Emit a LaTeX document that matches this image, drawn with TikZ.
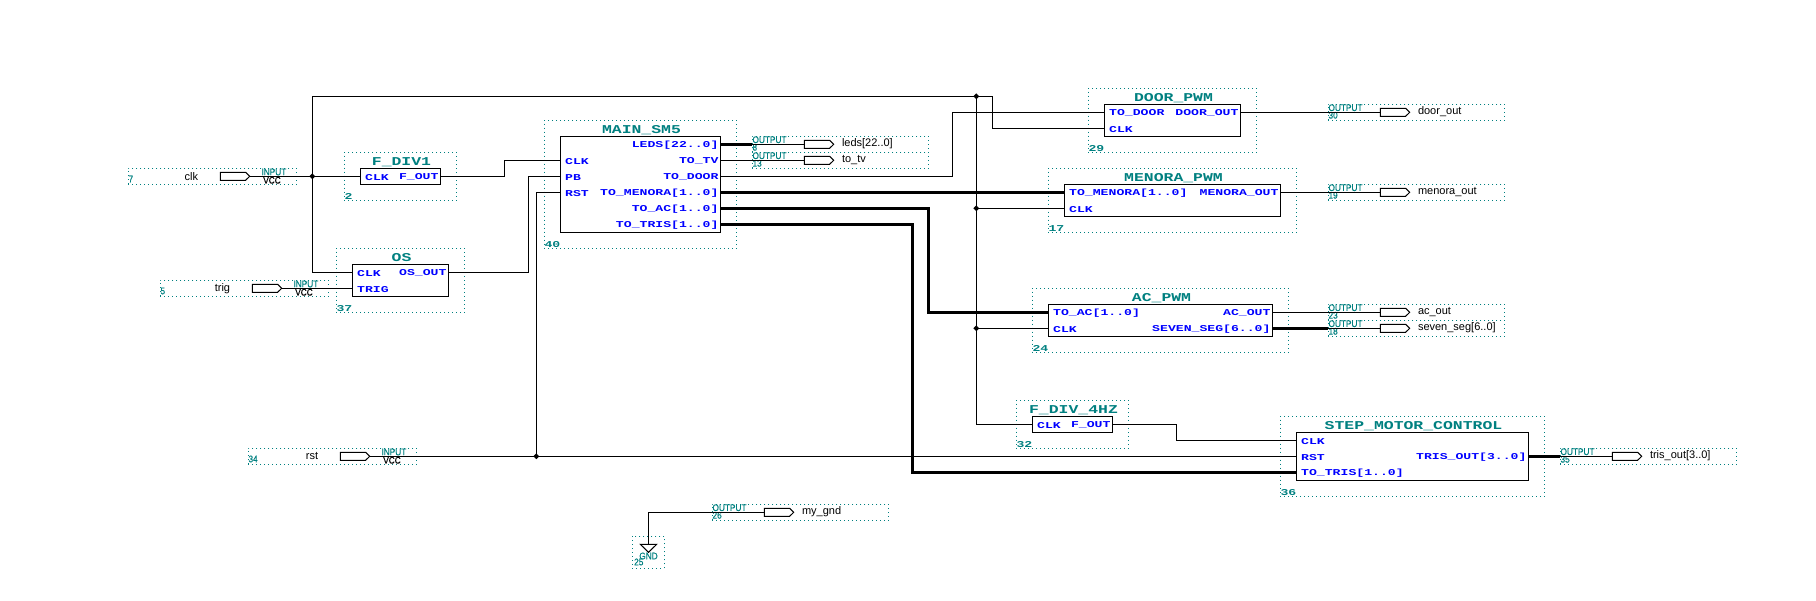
\documentclass[tikz,border=0pt]{standalone}
\usepackage{fontspec}
\setmainfont{Liberation Sans}
\newfontfamily\portfont{Liberation Mono}[FakeStretch=1.46]
\newfontfamily\titlefont{Liberation Mono}[FakeStretch=1.37]
\newfontfamily\smallfont{Liberation Sans}[FakeStretch=0.87,FakeBold=0.4]
\usetikzlibrary{shapes.geometric}
\definecolor{qteal}{HTML}{008080}
\definecolor{qblue}{HTML}{0000FF}
\tikzset{
  wire/.style={line width=1pt,black},
  bus/.style={line width=3pt,black},
  pinshape/.style={draw=black,fill=white,line width=1pt},
  blockbox/.style={draw=black,line width=1pt,inner sep=0pt,outer sep=0pt,anchor=north west},
  dotbox/.style={draw=qteal,line width=1pt,dash pattern=on 1pt off 3pt,inner sep=0pt,outer sep=0pt,anchor=north west},
  portlab/.style={text=qblue,inner sep=0pt,font=\portfont\bfseries\fontsize{9}{9}\selectfont},
  titlelab/.style={text=qteal,inner sep=0pt,font=\titlefont\bfseries\fontsize{12}{12}\selectfont},
  numlab/.style={text=qteal,inner sep=0pt,anchor=west,font=\portfont\bfseries\fontsize{9}{9}\selectfont},
  smalllab/.style={text=qteal,inner sep=0pt,font=\smallfont\fontsize{9.5}{9.5}\selectfont},
  vcclab/.style={text=black,inner sep=0pt,font=\smallfont\fontsize{9.5}{9.5}\selectfont},
  namelab/.style={text=black,inner sep=0pt,font=\fontsize{11}{11}\selectfont},
  junction/.style={diamond,fill=black,inner sep=0pt,minimum size=6pt},
}
% name, x, y, w, h, title, number
\newcommand{\qblock}[7]{%
  \node[dotbox,minimum width={(#4+32)*1pt},minimum height={(#5+32)*1pt}] (#1-dots) at ({#2-16},{#3-16}) {};
  \node[blockbox,minimum width=#4pt,minimum height=#5pt] (#1) at (#2,#3) {};
  \node[titlelab] (#1-title) at ({#2+#4/2+1},{#3-6.5}) {#6};
  \node[numlab] (#1-num) at ({#2-16},{#3+#5+12}) {#7};
}
\newcommand{\qpinshape}[2]{%
  \draw[pinshape] ({#1},{#2-4}) -- ++(25.3,0) -- ++(4.1,4) -- ++(-4.1,4) -- ++(-25.3,0) -- cycle;
}
% name, x, y, text, number
\newcommand{\qinput}[5]{%
  \node[dotbox,minimum width=168.5pt,minimum height=16pt] (#1-dots) at ({#2},{#3-8}) {};
  \qpinshape{#2+92}{#3}
  \coordinate (#1) at ({#2+121.4},{#3});
  \node[smalllab,anchor=west] (#1-kind) at ({#2+133},{#3-4.3}) {INPUT};
  \node[vcclab] (#1-vcc) at ({#2+143.7},{#3+4}) {VCC};
  \node[smalllab,anchor=west] (#1-num) at ({#2},{#3+2.7}) {#5};
  \node[namelab,anchor=east] (#1-name) at ({#2+70},{#3}) {#4};
}
\newcommand{\qoutput}[5]{%
  \node[dotbox,minimum width=176.5pt,minimum height=16pt] (#1-dots) at ({#2},{#3-8}) {};
  \qpinshape{#2+52}{#3}
  \coordinate (#1-in) at ({#2},{#3});
  \coordinate (#1-l) at ({#2+52},{#3});
  \node[smalllab,anchor=west] (#1-kind) at ({#2},{#3-4.6}) {OUTPUT};
  \node[smalllab,anchor=west] (#1-num) at ({#2},{#3+3}) {#5};
  \node[namelab,anchor=west] (#1-name) at ({#2+89.5},{#3-0.5}) {#4};
}
% coordinate name, x, y, text
\newcommand{\qportl}[4]{%
  \coordinate (#1) at (#2,#3);
  \node[portlab,anchor=west] (#1-t) at ({#2+4.7},{#3+1}) {#4};
}
\newcommand{\qportr}[4]{%
  \coordinate (#1) at (#2,#3);
  \node[portlab,anchor=east] (#1-t) at ({#2-2},{#3+1}) {#4};
}
\begin{document}
\begin{tikzpicture}[x=1pt,y=-1pt]
\useasboundingbox (0,0) rectangle (1816,600);
% blocks
\qblock{fdiv}{360.3}{168.3}{80.4}{16}{F\_DIV1}{2}
\qportl{fdiv-clk}{360.3}{176.3}{CLK}
\qportr{fdiv-out}{440.7}{176.3}{F\_OUT}
\qblock{os}{352.3}{264.3}{96.4}{32}{OS}{37}
\qportl{os-clk}{352.3}{272.3}{CLK}
\qportl{os-trig}{352.3}{288.3}{TRIG}
\qportr{os-out}{448.7}{272.3}{OS\_OUT}
\qblock{main}{560.3}{136.3}{160.4}{96}{MAIN\_SM5}{40}
\qportl{main-clk}{560.3}{160.3}{CLK}
\qportl{main-pb}{560.3}{176.3}{PB}
\qportl{main-rst}{560.3}{192.3}{RST}
\qportr{main-leds}{720.7}{144.3}{LEDS[22..0]}
\qportr{main-tv}{720.7}{160.3}{TO\_TV}
\qportr{main-door}{720.7}{176.3}{TO\_DOOR}
\qportr{main-men}{720.7}{192.3}{TO\_MENORA[1..0]}
\qportr{main-ac}{720.7}{208.3}{TO\_AC[1..0]}
\qportr{main-tris}{720.7}{224.3}{TO\_TRIS[1..0]}
\qblock{door}{1104.3}{104.3}{136.4}{32}{DOOR\_PWM}{29}
\qportl{door-to}{1104.3}{112.3}{TO\_DOOR}
\qportl{door-clk}{1104.3}{128.3}{CLK}
\qportr{door-out}{1240.7}{112.3}{DOOR\_OUT}
\qblock{men}{1064.3}{184.3}{216.4}{32}{MENORA\_PWM}{17}
\qportl{men-to}{1064.3}{192.3}{TO\_MENORA[1..0]}
\qportl{men-clk}{1064.3}{208.3}{CLK}
\qportr{men-out}{1280.7}{192.3}{MENORA\_OUT}
\qblock{ac}{1048.3}{304.3}{224.4}{32}{AC\_PWM}{24}
\qportl{ac-to}{1048.3}{312.3}{TO\_AC[1..0]}
\qportl{ac-clk}{1048.3}{328.3}{CLK}
\qportr{ac-out}{1272.7}{312.3}{AC\_OUT}
\qportr{ac-seg}{1272.7}{328.3}{SEVEN\_SEG[6..0]}
\qblock{ffour}{1032.3}{416.3}{80.4}{16}{F\_DIV\_4HZ}{32}
\qportl{ffour-clk}{1032.3}{424.3}{CLK}
\qportr{ffour-out}{1112.7}{424.3}{F\_OUT}
\qblock{step}{1296.3}{432.3}{232.4}{48}{STEP\_MOTOR\_CONTROL}{36}
\qportl{step-clk}{1296.3}{440.3}{CLK}
\qportl{step-rst}{1296.3}{456.3}{RST}
\qportl{step-tris}{1296.3}{472.3}{TO\_TRIS[1..0]}
\qportr{step-out}{1528.7}{456.3}{TRIS\_OUT[3..0]}
% inputs
\qinput{clkpin}{128.3}{176.3}{clk}{7}
\qinput{trigpin}{160.3}{288.3}{trig}{5}
\qinput{rstpin}{248.3}{456.3}{rst}{34}
% outputs
\qoutput{ledso}{752.3}{144.3}{leds[22..0]}{8}
\qoutput{tvo}{752.3}{160.3}{to\_tv}{13}
\qoutput{dooro}{1328.3}{112.3}{door\_out}{30}
\qoutput{meno}{1328.3}{192.3}{menora\_out}{19}
\qoutput{aco}{1328.3}{312.3}{ac\_out}{23}
\qoutput{sego}{1328.3}{328.3}{seven\_seg[6..0]}{18}
\qoutput{triso}{1560.3}{456.3}{tris\_out[3..0]}{35}
\qoutput{gndo}{712.3}{512.3}{my\_gnd}{26}
% gnd symbol
\node[dotbox,minimum width=32pt,minimum height=32pt] (gnd-dots) at (632.3,536.3) {};
\draw[pinshape] (640.3,544.3) -- (656.7,544.3) -- (648.5,552.3) -- cycle;
\coordinate (gndtop) at (648.5,544.3);
\node[smalllab] (gnd-t) at (648.5,556) {GND};
\node[smalllab,anchor=west] (gnd-n) at (634,562) {25};
% helper corners
\coordinate (tl) at (312.3,96.3);
\coordinate (tr) at (992.3,96.3);
\coordinate (c1) at (504.3,160.3);
\coordinate (c2) at (528.3,176.3);
\coordinate (c3) at (952.3,112.3);
\coordinate (c4) at (928.3,312.3);
\coordinate (c5) at (912.3,472.3);
\coordinate (c6) at (1176.3,440.3);
\node[junction] (jclk) at (312.3,176.3) {};
\node[junction] (jtop) at (976.3,96.3) {};
\node[junction] (jmen) at (976.3,208.3) {};
\node[junction] (jac) at (976.3,328.3) {};
\node[junction] (jrst) at (536.3,456.3) {};
% wires
\draw[wire] (clkpin) -- (fdiv-clk);
\draw[wire] (os-clk) -| (tl) -- (tr) |- (door-clk);
\draw[wire] (trigpin) -- (os-trig);
\draw[wire] (fdiv-out) -| (c1) -- (main-clk);
\draw[wire] (os-out) -| (c2) -- (main-pb);
\draw[wire] (rstpin) -- (step-rst);
\draw[wire] (jrst.center) |- (main-rst);
\draw[wire] (jtop.center) |- (ffour-clk);
\draw[wire] (jmen.center) -- (men-clk);
\draw[wire] (jac.center) -- (ac-clk);
\draw[wire] (main-door) -| (c3) -- (door-to);
\draw[wire] (ffour-out) -| (c6) -- (step-clk);
\draw[bus] (main-leds) -- (ledso-in);
\draw[wire] (ledso-in) -- (ledso-l);
\draw[wire] (main-tv) -- (tvo-l);
\draw[wire] (door-out) -- (dooro-l);
\draw[wire] (men-out) -- (meno-l);
\draw[wire] (ac-out) -- (aco-l);
\draw[bus] (ac-seg) -- (sego-in);
\draw[wire] (sego-in) -- (sego-l);
\draw[bus] (step-out) -- (triso-in);
\draw[wire] (triso-in) -- (triso-l);
\draw[bus] (main-men) -- (men-to);
\draw[bus] (main-ac) -| (c4) -- (ac-to);
\draw[bus] (main-tris) -| (c5) -- (step-tris);
\draw[wire] (gndtop) |- (gndo-l);
\end{tikzpicture}
\end{document}
